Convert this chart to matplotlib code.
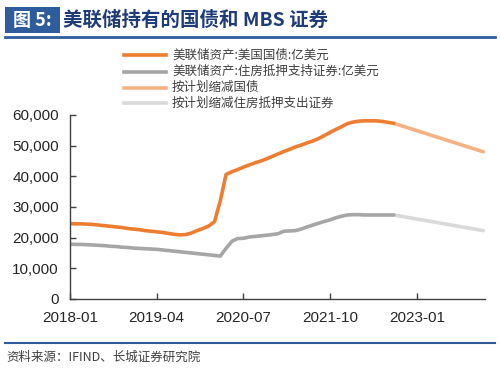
import matplotlib
matplotlib.use('Agg')
import matplotlib.pyplot as plt
from matplotlib.ticker import FuncFormatter
from matplotlib.lines import Line2D
from matplotlib.patches import Rectangle

plt.rcParams['font.family'] = ['Liberation Sans', 'Noto Sans CJK SC', 'DejaVu Sans']

# months counted from 2018-01
months_actual = list(range(0, 57))
treasury = [24600, 24500, 24500, 24400, 24300, 24100, 23900, 23700, 23500, 23300,
            23000, 22800, 22600, 22300, 22100, 21900, 21700, 21400, 21100, 20900,
            21000, 21500, 22300, 23000, 23800, 25200, 32000, 40600, 41500, 42200,
            43000, 43700, 44400, 45000, 45700, 46500, 47300, 48100, 48800, 49600,
            50200, 50900, 51500, 52300, 53300, 54300, 55300, 56200, 57200, 57700,
            58000, 58100, 58100, 58100, 57900, 57600, 57300]
mbs = [17900, 17800, 17800, 17700, 17600, 17500, 17400, 17200, 17100, 16900,
       16800, 16600, 16500, 16400, 16300, 16200, 16000, 15800, 15600, 15400,
       15200, 15000, 14800, 14600, 14400, 14200, 14000, 16500, 18800, 19700,
       19800, 20200, 20400, 20600, 20800, 21000, 21300, 22100, 22200, 22300,
       22800, 23500, 24100, 24700, 25300, 25800, 26500, 27000, 27400, 27500,
       27500, 27400, 27400, 27400, 27400, 27400, 27400]

months_plan = [56, 71.5]
treasury_plan = [57300, 48000]
mbs_plan = [27400, 22300]

tick_pos = [0, 15, 30, 45, 60]
tick_labels = ['2018-01', '2019-04', '2020-07', '2021-10', '2023-01']
y_ticks = [0, 10000, 20000, 30000, 40000, 50000, 60000]

legend_labels = ['美联储资产:美国国债:亿美元', '美联储资产:住房抵押支持证券:亿美元',
                 '按计划缩减国债', '按计划缩减住房抵押支出证券']
colors = ['#ED7D31', '#A6A6A6', '#F4B183', '#D9D9D9']

fig = plt.figure(figsize=(5, 3.68), dpi=100)
ax = fig.add_axes([0.14, 0.1875, 0.83, 0.5])

ax.plot(months_plan, treasury_plan, color=colors[2], lw=2.6, solid_capstyle='round')
ax.plot(months_plan, mbs_plan, color=colors[3], lw=2.6, solid_capstyle='round')
ax.plot(months_actual, treasury, color=colors[0], lw=2.6, solid_capstyle='round')
ax.plot(months_actual, mbs, color=colors[1], lw=2.6, solid_capstyle='round')

ax.set_xlim(0, 71.8)
ax.set_ylim(0, 60000)
ax.set_xticks(tick_pos)
ax.set_xticklabels(tick_labels)
ax.set_yticks(y_ticks)
ax.yaxis.set_major_formatter(FuncFormatter(lambda v, p: '{:,.0f}'.format(v)))
for s in ['top', 'right']:
    ax.spines[s].set_visible(False)
for s in ['left', 'bottom']:
    ax.spines[s].set_color('#404040')
    ax.spines[s].set_linewidth(1.0)
ax.tick_params(direction='in', length=4, width=1, color='#404040',
               labelsize=11, labelcolor='#262626')
ax.tick_params(axis='x', pad=9)
ax.tick_params(axis='y', pad=8)

# legend drawn by hand in figure pixels
leg_y = [55, 71.5, 87.5, 103]
for c, lab, y in zip(colors, legend_labels, leg_y):
    fy = 1 - y / 368
    fig.add_artist(Line2D([124 / 500, 166 / 500], [fy, fy], color=c, lw=2.6))
    fig.text(172 / 500, fy, lab, fontsize=9, color='#404040', va='center',
             family=['Noto Sans CJK SC', 'DejaVu Sans'])

# title bar
fig.add_artist(Rectangle((5 / 500, 1 - 33 / 368), 55 / 500, 26 / 368,
                         transform=fig.transFigure, color='#2F5C9B', lw=0))
fig.text(32 / 500, 1 - 20 / 368, '图 5:', color='white', fontsize=13,
         fontweight='bold', ha='center', va='center',
         family=['Noto Sans CJK SC', 'DejaVu Sans'])
fig.text(63 / 500, 1 - 20 / 368, '美联储持有的国债和 MBS 证券', color='#1F3C78',
         fontsize=14, fontweight='bold', va='center',
         family=['Noto Sans CJK SC', 'DejaVu Sans'])
fig.add_artist(Line2D([5 / 500, 495 / 500], [1 - 37 / 368, 1 - 37 / 368],
                      color='#2F5C9B', lw=2))

# footer
fig.add_artist(Line2D([5 / 500, 495 / 500], [1 - 343 / 368, 1 - 343 / 368],
                      color='#2F5C9B', lw=1.5))
fig.text(6 / 500, 1 - 357 / 368, '资料来源：IFIND、长城证券研究院', color='#404040',
         fontsize=9, style='italic', va='center',
         family=['Noto Sans CJK SC', 'DejaVu Sans'])

fig.savefig('out.png', dpi=100)
